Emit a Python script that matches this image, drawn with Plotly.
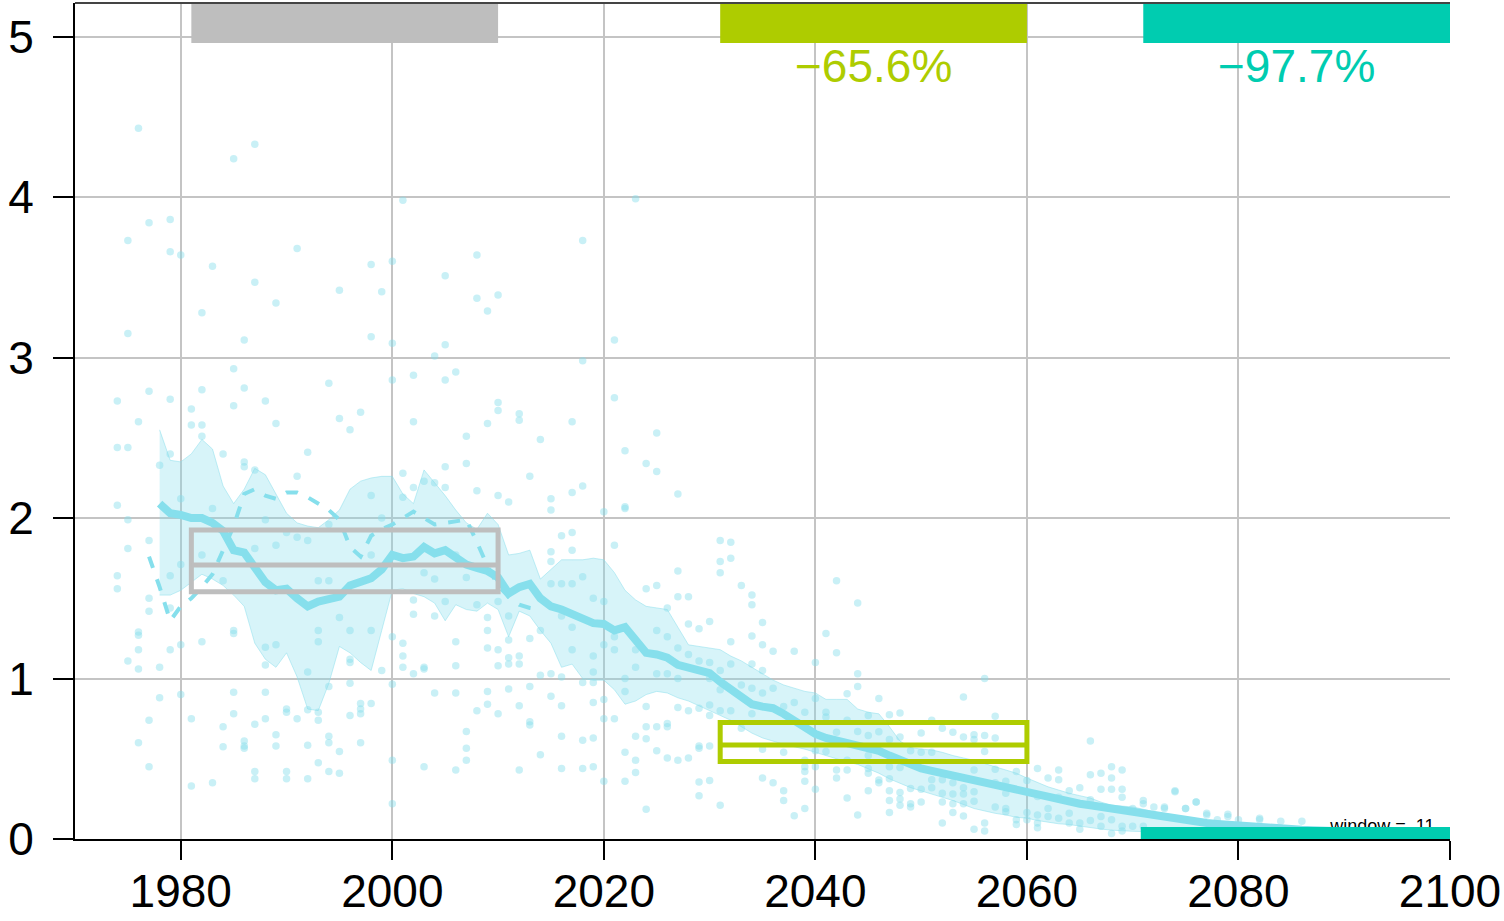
import plotly.graph_objects as go

# ---------------- data ----------------
line_years = list(range(1978, 2096))
line_mean = [2.09, 2.03, 2.02, 2.00, 2.00, 1.97, 1.92, 1.80, 1.785, 1.69,
             1.60, 1.55, 1.56, 1.50, 1.45, 1.48, 1.50, 1.51, 1.58, 1.60,
             1.625, 1.68, 1.77, 1.75, 1.76, 1.82, 1.78, 1.80, 1.76, 1.71,
             1.69, 1.67, 1.63, 1.53, 1.57, 1.59, 1.50, 1.45, 1.43, 1.40,
             1.37, 1.345, 1.34, 1.30, 1.32, 1.24, 1.16, 1.15, 1.13, 1.085,
             1.07, 1.054, 1.033, 0.98, 0.93, 0.88, 0.84, 0.825, 0.815, 0.78,
             0.74, 0.70, 0.655, 0.63, 0.615, 0.60, 0.59, 0.575, 0.55, 0.52,
             0.49, 0.465, 0.44, 0.425, 0.41, 0.395, 0.38, 0.36, 0.345, 0.33,
             0.315, 0.30, 0.285, 0.27, 0.255, 0.245, 0.232, 0.22, 0.21, 0.20,
             0.19, 0.178, 0.165, 0.152, 0.14, 0.13, 0.12, 0.113, 0.106, 0.10,
             0.094, 0.088, 0.083, 0.078, 0.073, 0.068, 0.064, 0.06, 0.057, 0.054,
             0.051, 0.048, 0.046, 0.044, 0.042, 0.04, 0.038, 0.036]

band_years = list(range(1978, 2086))
band_upper = [2.55, 2.36, 2.35, 2.40, 2.49, 2.43, 2.20, 2.09, 2.18, 2.31,
              2.27, 2.15, 2.03, 1.97, 1.95, 1.94, 1.99, 2.05, 2.18, 2.23,
              2.25, 2.26, 2.26, 2.15, 2.09, 2.30, 2.22, 2.14, 2.05, 1.97,
              1.93, 2.03, 1.96, 1.77, 1.78, 1.80, 1.62, 1.68, 1.74, 1.74,
              1.74, 1.75, 1.74, 1.66, 1.55, 1.49, 1.45, 1.44, 1.43, 1.32,
              1.21, 1.20, 1.19, 1.18, 1.14, 1.11, 1.07, 1.03, 0.99, 0.96,
              0.94, 0.92, 0.91, 0.87, 0.87, 0.87, 0.81, 0.79, 0.78, 0.70,
              0.61, 0.57, 0.56, 0.555, 0.54, 0.52, 0.505, 0.49, 0.47, 0.45,
              0.43, 0.41, 0.38, 0.35, 0.325, 0.305, 0.285, 0.27, 0.255, 0.23,
              0.21, 0.205, 0.20, 0.185, 0.17, 0.155, 0.14, 0.13, 0.12, 0.115,
              0.11, 0.105, 0.10, 0.095, 0.09, 0.085, 0.08, 0.075]
band_lower = [1.52, 1.52, 1.55, 1.60, 1.65, 1.62, 1.58, 1.52, 1.45, 1.22,
              1.12, 1.07, 1.16, 1.01, 0.81, 0.80, 0.97, 1.20, 1.16, 1.10,
              1.05, 1.30, 1.55, 1.56, 1.53, 1.51, 1.47, 1.36, 1.46, 1.43,
              1.42, 1.47, 1.43, 1.26, 1.42, 1.39, 1.30, 1.22, 1.07, 1.09,
              1.00, 0.99, 0.99, 0.93, 0.84, 0.86, 0.90, 0.92, 0.91, 0.88,
              0.86, 0.83, 0.80, 0.77, 0.74, 0.70, 0.66, 0.63, 0.61, 0.59,
              0.575, 0.56, 0.54, 0.52, 0.50, 0.48, 0.465, 0.44, 0.41, 0.375,
              0.345, 0.32, 0.30, 0.28, 0.26, 0.24, 0.215, 0.19, 0.175, 0.16,
              0.15, 0.135, 0.13, 0.115, 0.105, 0.095, 0.09, 0.08, 0.07, 0.062,
              0.055, 0.05, 0.048, 0.046, 0.045, 0.044, 0.042, 0.041, 0.04, 0.039,
              0.038, 0.037, 0.036, 0.035, 0.034, 0.033, 0.032, 0.031]

obs_years = list(range(1977, 2015))
obs_smooth = [1.76, 1.57, 1.36, 1.45, 1.50, 1.57, 1.65, 1.80, 1.95, 2.15,
              2.18, 2.14, 2.12, 2.16, 2.16, 2.13, 2.09, 2.05, 1.99, 1.82,
              1.76, 1.89, 1.93, 1.96, 2.00, 2.04, 2.00, 1.96, 1.97, 1.98,
              1.99, 1.85, 1.70, 1.58, 1.51, 1.46, 1.44, 1.43]

dot_years = list(range(1974, 2081)) + [2082, 2084, 2086]
dot_values = [
    [2.73, 2.44, 2.08, 1.64, 1.56],                       # 1974
    [3.73, 3.15, 2.44, 1.99, 1.81, 1.11],
    [4.43, 2.60, 1.29, 1.27, 1.18, 1.06, 0.60],
    [3.84, 2.79, 1.86, 1.50, 1.42, 0.74, 0.45],
    [2.33, 1.07, 0.88],
    [3.86, 3.66, 2.74, 2.40, 1.64, 1.44, 1.18],
    [3.64, 2.12, 1.71, 1.21, 0.90],                       # 1980
    [2.68, 2.58, 0.75, 0.33],
    [3.28, 2.80, 2.58, 2.51, 1.77, 1.23],
    [3.57, 2.06, 0.35],
    [2.40, 1.61, 0.70, 0.575],
    [4.24, 2.93, 2.70, 1.30, 1.28, 0.915, 0.78],
    [3.11, 2.81, 2.35, 2.32, 0.61, 0.58, 0.565],
    [4.33, 3.47, 2.30, 1.81, 0.715, 0.42, 0.375],
    [2.73, 1.99, 1.195, 1.085, 0.915, 0.75],
    [3.34, 2.59, 1.83, 1.21, 0.65, 0.58],
    [1.91, 0.81, 0.79, 0.42, 0.375],                      # 1990
    [3.68, 2.26, 1.88, 0.75],
    [2.41, 1.86, 1.04, 0.805, 0.585, 0.375],
    [1.61, 1.30, 1.23, 0.79, 0.74, 0.475],
    [2.84, 1.96, 1.61, 0.95, 0.64, 0.60, 0.42],
    [3.42, 2.62, 1.38, 0.545, 0.41],
    [2.55, 1.30, 1.12, 1.10, 0.97, 0.77],
    [2.66, 0.845, 0.81, 0.78, 0.60],
    [3.58, 3.13, 2.14, 1.77, 1.30, 0.845],
    [3.41, 2.00, 1.05],
    [3.60, 3.09, 2.86, 1.26, 0.965, 0.49, 0.22],          # 2000
    [3.98, 2.28, 2.13, 1.22, 1.14, 1.07],
    [2.89, 2.60, 2.19, 1.49, 1.40, 1.03],
    [2.23, 1.66, 1.07, 1.06, 0.45],
    [3.01, 2.22, 1.62, 1.39, 0.91],
    [3.51, 3.08, 2.86, 2.32, 2.19, 1.48],
    [2.91, 1.77, 1.23, 1.08, 0.91, 0.43],
    [2.51, 2.34, 1.63, 0.67, 0.565, 0.49],
    [3.64, 3.37, 2.17, 1.46, 0.80],
    [3.29, 2.59, 1.38, 1.30, 1.19, 0.92, 0.84],
    [3.39, 2.72, 2.67, 2.14, 1.48, 1.18, 1.08, 0.78],     # 2010
    [2.10, 1.39, 1.24, 1.13, 1.09, 0.935],
    [2.65, 2.61, 1.14, 1.09, 0.83, 0.43],
    [2.26, 1.25, 0.95, 0.73, 0.71],
    [2.49, 1.30, 1.02, 0.525],
    [2.12, 2.05, 1.79, 1.73, 1.59, 1.03, 0.89],
    [1.89, 1.59, 1.39, 1.01, 0.83, 0.64, 0.44],
    [2.60, 2.16, 1.91, 1.80, 1.59, 1.32, 1.18],
    [3.73, 2.98, 2.20, 1.635, 0.975, 0.615, 0.44],
    [1.50, 1.14, 1.04, 0.975, 0.85, 0.63, 0.45],
    [2.04, 1.48, 1.21, 0.87, 0.75, 0.36],                 # 2020
    [3.11, 2.75, 1.83, 1.26, 1.18, 0.75],
    [2.42, 2.07, 2.06, 1.00, 0.92, 0.54, 0.36],
    [3.99, 1.18, 1.07, 0.64, 0.49, 0.415],
    [2.34, 1.56, 0.825, 0.70, 0.625, 0.185],
    [2.53, 2.29, 1.58, 1.30, 1.03, 0.70, 0.55],
    [1.44, 1.26, 1.03, 0.72, 0.70, 0.505],
    [2.15, 1.67, 1.51, 1.19, 1.00, 0.82, 0.49],
    [1.51, 1.34, 1.15, 0.80, 0.505],
    [1.31, 1.11, 0.815, 0.58, 0.565, 0.355, 0.27],
    [1.355, 1.10, 1.00, 0.835, 0.77, 0.58, 0.365],        # 2030
    [1.86, 1.73, 1.66, 1.05, 0.93, 0.80, 0.21],
    [1.85, 1.75, 1.23, 1.09, 0.80],
    [1.58, 0.96, 0.69],
    [1.52, 1.46, 1.265, 1.09, 0.94, 0.78],
    [1.35, 1.21, 1.05, 0.91, 0.56, 0.38],
    [1.17, 0.94, 0.35],
    [0.825, 0.54, 0.30, 0.24],
    [1.17, 0.85, 0.145],
    [0.79, 0.49, 0.45, 0.42, 0.36, 0.19],
    [1.10, 0.875, 0.55, 0.45, 0.31],                      # 2040
    [1.28, 0.79, 0.76, 0.545],
    [1.61, 1.16, 0.665, 0.43, 0.38],
    [0.905, 0.74, 0.49, 0.43, 0.255],
    [1.47, 1.03, 0.95, 0.67, 0.15],
    [0.77, 0.645, 0.52, 0.44, 0.41, 0.30],
    [0.875, 0.668, 0.367, 0.35],
    [0.775, 0.62, 0.45, 0.375, 0.30, 0.24, 0.165],
    [0.785, 0.635, 0.445, 0.29, 0.25, 0.21],
    [0.55, 0.315, 0.22, 0.20],
    [0.66, 0.54, 0.31, 0.23],                             # 2050
    [0.74, 0.54, 0.37, 0.32],
    [0.69, 0.37, 0.285, 0.23, 0.10],
    [0.665, 0.35, 0.28, 0.22, 0.165],
    [0.885, 0.635, 0.32, 0.28, 0.22, 0.143],
    [0.65, 0.62, 0.43, 0.295, 0.235, 0.06],
    [1.00, 0.645, 0.545, 0.10, 0.05],
    [0.765, 0.63, 0.435, 0.35, 0.20],
    [0.36, 0.285, 0.19, 0.17],
    [0.42, 0.12, 0.09],
    [0.365, 0.165, 0.12],                                 # 2060
    [0.44, 0.265, 0.15, 0.10, 0.07],
    [0.38, 0.19, 0.14],
    [0.43, 0.37, 0.26, 0.13],
    [0.30, 0.16, 0.10],
    [0.32, 0.10, 0.06],
    [0.61, 0.40, 0.245, 0.115],
    [0.41, 0.31, 0.14, 0.08],
    [0.45, 0.38, 0.31, 0.12, 0.035],
    [0.43, 0.31, 0.26, 0.08, 0.05],
    [0.19, 0.08],                                         # 2070
    [0.24, 0.22, 0.08],
    [0.20],
    [0.20, 0.19],
    [0.30, 0.295],
    [0.19, 0.19],
    [0.23, 0.23],
    [0.16, 0.15],
    [0.12],
    [0.155, 0.14],
    [0.12],                                               # 2080
    [0.13, 0.12],                                         # 2082
    [0.11],                                               # 2084
    [0.11],                                               # 2086
]

period_start = [1981, 2031, 2071]
period_end = [2010, 2060, 2100]
period_low = [1.541, 0.483, 0.016]
period_median = [1.708, 0.586, 0.037]
period_high = [1.926, 0.726, 0.059]
period_colors = ["#BEBEBE", "#AECC00", "#00CCB0"]
period_labels = ["", "\u221265.6%", "\u221297.7%"]

x_ticks = [1980, 2000, 2020, 2040, 2060, 2080, 2100]
y_ticks = [0, 1, 2, 3, 4, 5]
window_label = "window =  11"

# ---------------- figure ----------------
CYAN = "#86DFEC"
FONT = "Liberation Sans, Arial, Helvetica, sans-serif"

dot_x, dot_y = [], []
for yr, vals in zip(dot_years, dot_values):
    for v in vals:
        dot_x.append(yr)
        dot_y.append(v)

fig = go.Figure()
fig.add_trace(go.Scatter(x=dot_x, y=dot_y, mode="markers",
                         marker=dict(size=7.5, color="rgba(135,222,236,0.45)", line=dict(width=0)),
                         hoverinfo="skip", showlegend=False))
fig.add_trace(go.Scatter(x=band_years, y=band_lower, mode="lines",
                         line=dict(color="rgba(135,222,236,0.5)", width=1),
                         hoverinfo="skip", showlegend=False))
fig.add_trace(go.Scatter(x=band_years, y=band_upper, mode="lines", fill="tonexty",
                         fillcolor="rgba(135,222,236,0.33)",
                         line=dict(color="rgba(135,222,236,0.5)", width=1),
                         hoverinfo="skip", showlegend=False))
fig.add_trace(go.Scatter(x=line_years, y=line_mean, mode="lines",
                         line=dict(color=CYAN, width=8),
                         hoverinfo="skip", showlegend=False))
fig.add_trace(go.Scatter(x=obs_years, y=obs_smooth, mode="lines",
                         line=dict(color=CYAN, width=4, dash="12px,12px"),
                         hoverinfo="skip", showlegend=False))
fig.add_trace(go.Scatter(x=[2093.6], y=[0.072], mode="text", text=[window_label],
                         textfont=dict(family=FONT, size=18, color="black"),
                         textposition="middle center",
                         hoverinfo="skip", showlegend=False))

YTOP = 5.21
shapes = []
annotations = []
for i in range(3):
    c = period_colors[i]
    x0, x1 = period_start[i], period_end[i]
    shapes.append(dict(type="rect", xref="x", yref="y", x0=x0, x1=x1, y0=4.96, y1=YTOP,
                       fillcolor=c, line=dict(width=0), layer="above"))
    fill = c if i == 2 else "rgba(0,0,0,0)"
    shapes.append(dict(type="rect", xref="x", yref="y", x0=x0, x1=x1,
                       y0=period_low[i], y1=period_high[i],
                       fillcolor=fill, line=dict(color=c, width=5), layer="above"))
    shapes.append(dict(type="line", xref="x", yref="y", x0=x0, x1=x1,
                       y0=period_median[i], y1=period_median[i],
                       line=dict(color=c, width=5), layer="above"))
    if period_labels[i]:
        annotations.append(dict(x=(x0 + x1) / 2, y=4.82, xref="x", yref="y",
                                text=period_labels[i], showarrow=False,
                                font=dict(family=FONT, size=46, color=c),
                                xanchor="center", yanchor="middle"))

shapes.append(dict(type="line", xref="paper", yref="paper", x0=0, x1=1, y0=1, y1=1,
                   line=dict(color="#444444", width=2), layer="above"))

fig.update_layout(
    width=1504, height=921,
    margin=dict(l=75, r=54, t=3, b=82, pad=0),
    paper_bgcolor="white", plot_bgcolor="white",
    shapes=shapes, annotations=annotations,
    showlegend=False,
    font=dict(family=FONT, size=46, color="black"),
)
fig.update_xaxes(range=[1970, 2100], tickvals=x_ticks, ticktext=[str(t) for t in x_ticks],
                 showgrid=True, gridcolor="#C4C4C4", gridwidth=2,
                 showline=True, linecolor="black", linewidth=2,
                 ticks="outside", ticklen=19, tickwidth=2, tickcolor="black",
                 tickfont=dict(family=FONT, size=46, color="black"),
                 ticklabelstandoff=-8, automargin=False,
                 zeroline=False, fixedrange=True)
fig.update_yaxes(range=[0, YTOP], tickvals=y_ticks, ticktext=[str(t) for t in y_ticks],
                 showgrid=True, gridcolor="#C4C4C4", gridwidth=2,
                 showline=True, linecolor="black", linewidth=2,
                 ticks="outside", ticklen=20, tickwidth=2, tickcolor="black",
                 tickfont=dict(family=FONT, size=46, color="black"),
                 ticklabelstandoff=10, automargin=False,
                 zeroline=False, fixedrange=True)

fig.write_html("out.html", config={"displayModeBar": False},
               post_script="document.body.style.margin='0px';document.body.style.overflow='hidden';")
